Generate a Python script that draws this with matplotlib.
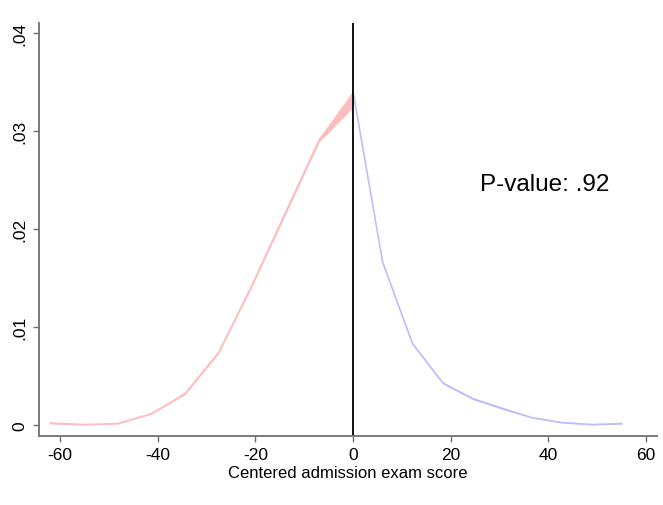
import numpy as np
import matplotlib.pyplot as plt

plt.rcParams['font.family'] = ['Liberation Sans', 'DejaVu Sans']

# Density estimates left and right of cutoff
x_left = [-62.0, -55.1, -48.2, -41.3, -34.4, -27.5, -20.6, -13.8, -6.9, 0.0]
lo_left = [0.0001, 0.0000, 0.0001, 0.0011, 0.0031, 0.0073, 0.0142, 0.0215, 0.0289, 0.0324]
hi_left = [0.0003, 0.0001, 0.0002, 0.0012, 0.0033, 0.0075, 0.0145, 0.0219, 0.0293, 0.0341]

x_right = [0.0, 6.1, 12.2, 18.4, 24.5, 30.6, 36.7, 42.9, 49.0, 55.1]
lo_right = [0.0340, 0.0165, 0.0082, 0.0042, 0.0026, 0.0016, 0.0007, 0.0002, 0.0000, 0.0001]
hi_right = [0.0342, 0.0167, 0.0084, 0.0044, 0.0028, 0.0018, 0.0008, 0.0003, 0.0001, 0.0002]

xticks = [-60, -40, -20, 0, 20, 40, 60]
yticks = [0, 0.01, 0.02, 0.03, 0.04]
ytick_labels = ['0', '.01', '.02', '.03', '.04']

fig = plt.figure(figsize=(6.63, 5.06), dpi=100)
ax = fig.add_axes([0.0588, 0.1364, 0.9322, 0.8162])

red = '#ffbcbc'
blue = '#bcbcff'
ax.fill_between(x_left, lo_left, hi_left, color=red, lw=0)
ax.plot(x_left, (np.array(lo_left) + np.array(hi_left)) / 2, color=red, lw=1.1)
ax.fill_between(x_right, lo_right, hi_right, color=blue, lw=0)
ax.plot(x_right, (np.array(lo_right) + np.array(hi_right)) / 2, color=blue, lw=1.1)

ax.axvline(0, color='black', lw=1.3)

ax.text(26, 0.0246, 'P-value: .92', fontsize=17.5, va='center', ha='left')

ax.set_xlim(-64.3, 62.3)
ax.set_ylim(-0.00112, 0.04102)
ax.set_xticks(xticks)
ax.set_xticklabels([str(t) for t in xticks])
ax.set_yticks(yticks)
ax.set_yticklabels(ytick_labels, rotation=90, va='center')
ax.set_xlabel('Centered admission exam score', fontsize=12, labelpad=2)

for s in ['top', 'right']:
    ax.spines[s].set_visible(False)
for s in ['left', 'bottom']:
    ax.spines[s].set_color('#707070')
    ax.spines[s].set_linewidth(1.3)
ax.tick_params(colors='#707070', labelcolor='black', labelsize=12.5, length=4.5, width=1)

fig.savefig('out.png')
